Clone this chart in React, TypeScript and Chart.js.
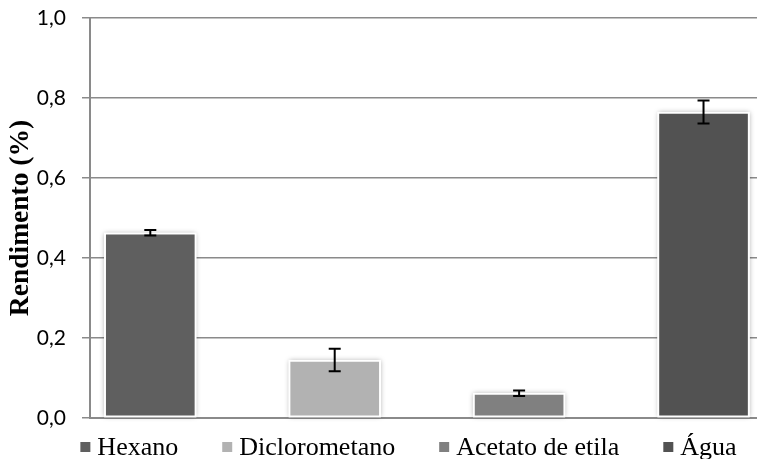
import React, { useEffect, useRef } from "react";
import { Chart, registerables } from "chart.js";

Chart.register(...registerables);

const categories = ["Hexano", "Diclorometano", "Acetato de etila", "Água"];
const values = [0.463, 0.145, 0.062, 0.765];
const errors = [0.007, 0.028, 0.007, 0.029];
const colors = ["#5f5f5f", "#b2b2b2", "#808080", "#525252"];
const yTicks = [0, 0.2, 0.4, 0.6, 0.8, 1.0];
const yTitle = "Rendimento (%)";

const GRID = "#8a8a8a";

const shadowPlugin = {
  id: "barShadow",
  beforeDatasetsDraw(chart: any) {
    const ctx = chart.ctx;
    const meta = chart.getDatasetMeta(0);
    meta.data.forEach((el: any) => {
      const { x, y, base, width } = el.getProps(["x", "y", "base", "width"], true);
      ctx.save();
      ctx.shadowColor = "rgba(0,0,0,0.35)";
      ctx.shadowBlur = 5;
      ctx.fillStyle = "#ffffff";
      ctx.fillRect(x - width / 2, y, width, base - y);
      ctx.restore();
    });
  },
};

const errorBarPlugin = {
  id: "errorBars",
  afterDatasetsDraw(chart: any) {
    const ctx = chart.ctx;
    const xs = chart.scales.x;
    const ys = chart.scales.y;
    ctx.save();
    ctx.strokeStyle = "#000000";
    ctx.lineWidth = 2;
    values.forEach((v, i) => {
      const x = xs.getPixelForValue(i);
      const top = ys.getPixelForValue(v + errors[i]);
      const bot = ys.getPixelForValue(v - errors[i]);
      ctx.beginPath();
      ctx.moveTo(x, top);
      ctx.lineTo(x, bot);
      ctx.moveTo(x - 6, top);
      ctx.lineTo(x + 6, top);
      ctx.moveTo(x - 6, bot);
      ctx.lineTo(x + 6, bot);
      ctx.stroke();
    });
    ctx.restore();
  },
};

const legendPlugin = {
  id: "customLegend",
  afterDraw(chart: any) {
    const ctx = chart.ctx;
    ctx.save();
    ctx.font = '26px "Liberation Serif"';
    ctx.textBaseline = "alphabetic";
    const box = 10;
    const gapText = 7;
    const gapItem = 44;
    const widths = categories.map((c) => ctx.measureText(c).width);
    const total =
      widths.reduce((a, b) => a + b, 0) + categories.length * (box + gapText) + (categories.length - 1) * gapItem;
    const center = (chart.chartArea.left + chart.chartArea.right) / 2 - 15;
    let x = center - total / 2;
    const baseY = chart.chartArea.bottom + 37;
    categories.forEach((c, i) => {
      ctx.fillStyle = colors[i];
      ctx.fillRect(x, baseY - 13, box, box);
      x += box + gapText;
      ctx.fillStyle = "#000000";
      ctx.fillText(c, x, baseY);
      x += widths[i] + gapItem;
    });
    ctx.restore();
  },
};

export default function App() {
  const ref = useRef<HTMLCanvasElement | null>(null);

  useEffect(() => {
    if (!ref.current) return;
    const chart = new Chart(ref.current, {
      type: "bar",
      data: {
        datasets: [
          {
            label: "Rendimento",
            data: values.map((v, i) => ({ x: i, y: v })),
            backgroundColor: colors,
            borderColor: "#ffffff",
            borderWidth: 2,
            borderSkipped: false,
            barThickness: 92,
          },
        ],
      },
      options: {
        animation: false,
        responsive: true,
        maintainAspectRatio: false,
        layout: { padding: { top: 18, right: 0, bottom: 41, left: 0 } },
        plugins: {
          legend: { display: false },
          tooltip: { enabled: false },
        },
        scales: {
          x: {
            type: "linear",
            min: -0.327,
            max: 3.29,
            offset: false,
            z: 1,
            grid: { display: false, drawTicks: false, offset: false },
            ticks: { display: false },
            border: { display: true, color: GRID, width: 2 },
            afterFit(scale: any) {
              scale.height = 0;
              scale.paddingLeft = 0;
              scale.paddingRight = 0;
            },
          },
          y: {
            min: 0,
            max: 1,
            afterBuildTicks(scale: any) {
              scale.ticks = yTicks.map((v) => ({ value: v }));
            },
            afterFit(scale: any) {
              scale.width = 90;
              scale.paddingTop = 0;
              scale.paddingBottom = 0;
            },
            ticks: {
              padding: 16,
              color: "#000000",
              font: { family: "Lato", size: 21 },
              callback: (v: any) => Number(v).toFixed(1).replace(".", ","),
            },
            grid: { color: GRID, lineWidth: 1.5, tickLength: 8 },
            border: { display: true, color: GRID, width: 2 },
            title: {
              display: true,
              text: yTitle,
              color: "#000000",
              font: { family: "Liberation Serif", size: 27.5, weight: "bold" },
              padding: { top: 4, bottom: 0 },
            },
          },
        },
      },
      plugins: [shadowPlugin, errorBarPlugin, legendPlugin],
    });
    return () => chart.destroy();
  }, []);

  return (
    <div style={{ position: "fixed", left: 0, top: 0, width: 757, height: 459, background: "#ffffff" }}>
      <canvas ref={ref} />
    </div>
  );
}
